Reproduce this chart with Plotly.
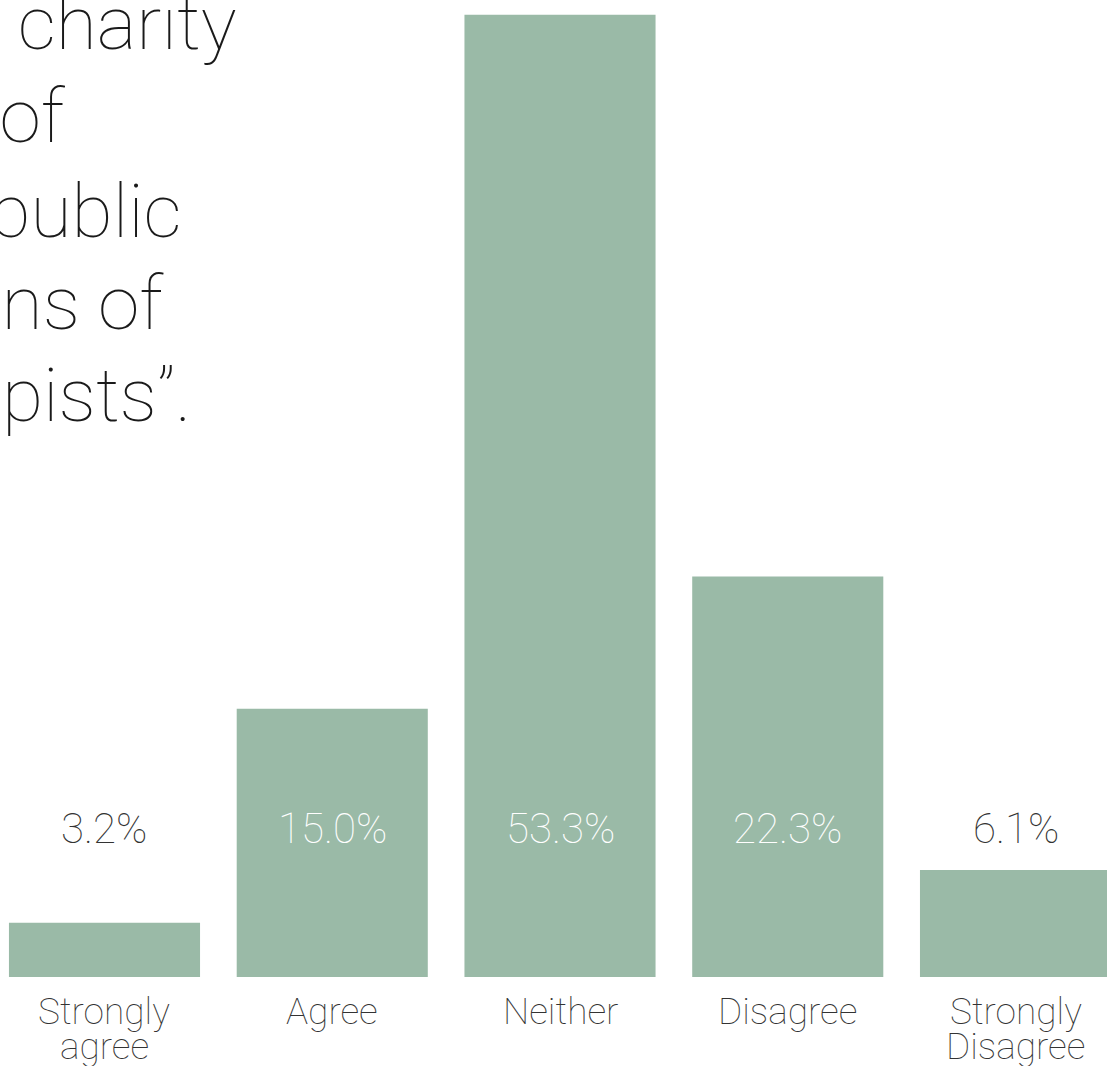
import plotly.graph_objects as go

# ---- data ----
categories = ["Strongly agree", "Agree", "Neither", "Disagree", "Strongly Disagree"]
tick_lines = [["Strongly", "agree"], ["Agree"], ["Neither"], ["Disagree"], ["Strongly", "Disagree"]]
values = [3.2, 15.0, 53.3, 22.3, 6.1]
value_labels = ["3.2%", "15.0%", "53.3%", "22.3%", "6.1%"]
title_lines = ["\u201cI give to charity", "because of", "the public", "perceptions of", "philanthropists\u201d."]

W, H = 1107, 1066
PLOT_BOTTOM = 977          # px, bottom of plot area
Y0, Y1 = 0.2, 54.12        # y range
BAR_COLOR = "#9abaa7"
TEXT_DARK = "#333333"
FONT = "Roboto"
WEIGHT = 100

def py_to_paper(py):
    return (PLOT_BOTTOM - py) / PLOT_BOTTOM

def px_to_paper(px):
    return px / W

fig = go.Figure()
fig.add_trace(go.Bar(
    x=list(range(len(categories))),
    y=values,
    marker=dict(color=BAR_COLOR, line=dict(width=0)),
    hovertext=categories,
    showlegend=False,
))

annotations = []

# percent labels at a fixed height
label_y_px = 828
label_y_val = Y0 + (PLOT_BOTTOM - label_y_px) * (Y1 - Y0) / PLOT_BOTTOM
for i, (v, t) in enumerate(zip(values, value_labels)):
    annotations.append(dict(
        x=i, y=py_to_paper(label_y_px), xref="x", yref="paper",
        text=t, showarrow=False, xanchor="center", yanchor="middle",
        font=dict(family=FONT, size=42, weight=WEIGHT,
                  color="white" if v > label_y_val + 1 else TEXT_DARK),
    ))

# category labels (multi-line, tight spacing)
cat_line_px = [1011, 1046]
for i, lines in enumerate(tick_lines):
    for j, line in enumerate(lines):
        annotations.append(dict(
            x=i, y=py_to_paper(cat_line_px[j]), xref="x", yref="paper",
            text=line, showarrow=False, xanchor="center", yanchor="middle",
            font=dict(family=FONT, size=37, weight=WEIGHT, color=TEXT_DARK),
        ))

# big quote (clipped at the left edge)
title_right_px = [238, 68, 184, 166, 193]
title_base_px = [45, 138, 233, 325, 418]
TFS = 75
for line, rx, by in zip(title_lines, title_right_px, title_base_px):
    annotations.append(dict(
        x=px_to_paper(rx), y=py_to_paper(by - 0.30 * TFS), xref="paper", yref="paper",
        text=line, showarrow=False, xanchor="right", yanchor="middle",
        font=dict(family=FONT, size=TFS, weight=WEIGHT, color="#1a1a1a"),
    ))

fig.update_layout(
    width=W, height=H,
    margin=dict(l=0, r=0, t=0, b=H - PLOT_BOTTOM, pad=0),
    paper_bgcolor="white", plot_bgcolor="white",
    bargap=0.161,
    xaxis=dict(range=[-0.4588, 4.4017], showticklabels=False, showgrid=False,
               zeroline=False, showline=False, ticks=""),
    yaxis=dict(range=[Y0, Y1], showticklabels=False, showgrid=False,
               zeroline=False, showline=False, ticks=""),
    annotations=annotations,
)

fig.write_html(
    "out.html",
    config={"displayModeBar": False},
    post_script="document.body.style.margin='0';document.body.style.overflow='hidden';",
)
